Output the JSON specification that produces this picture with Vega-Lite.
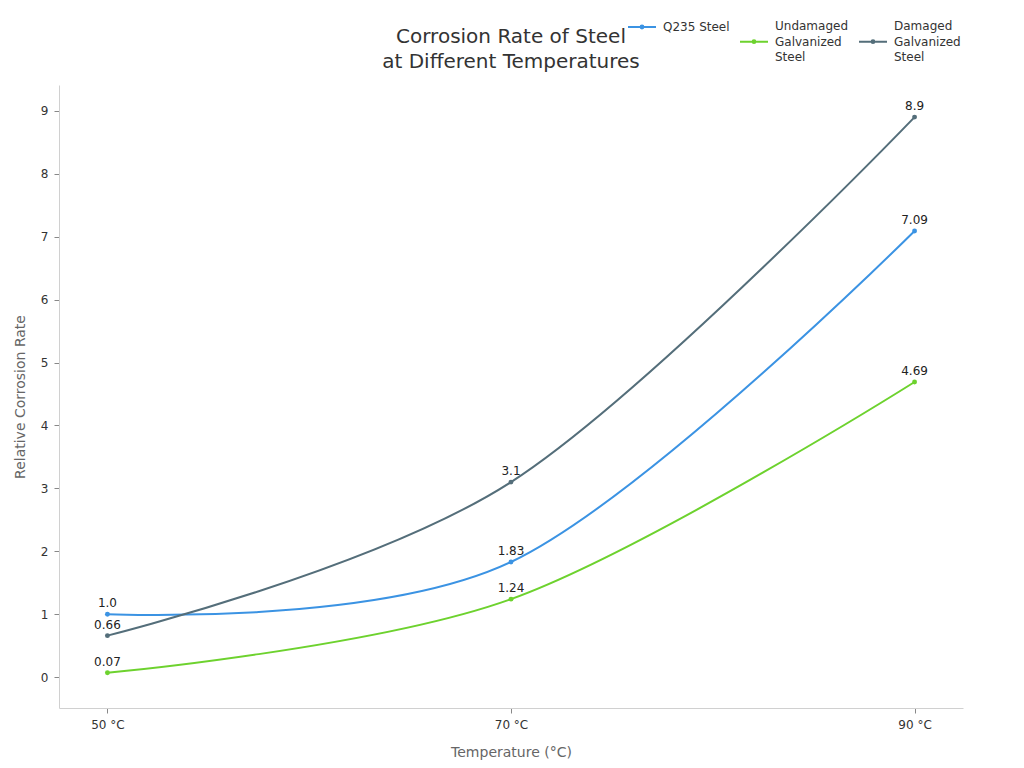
{
  "$schema": "https://vega.github.io/schema/vega-lite/v6.json",
  "autosize": {"type": "none"},
  "padding": {"left": 59, "top": 85, "right": 61, "bottom": 60},
  "width": 904,
  "height": 623,
  "title": {
    "text": ["Corrosion Rate of Steel", "at Different Temperatures"],
    "fontSize": 20,
    "fontWeight": "normal",
    "font": "DejaVu Sans",
    "color": "#333333",
    "anchor": "middle",
    "offset": 12,
    "dy": 73,
    "lineHeight": 25
  },
  "data": {
    "values": [
      {"temp": "50 °C", "series": "Q235 Steel", "rate": 1.0, "label": "1.0"},
      {"temp": "70 °C", "series": "Q235 Steel", "rate": 1.83, "label": "1.83"},
      {"temp": "90 °C", "series": "Q235 Steel", "rate": 7.09, "label": "7.09"},
      {"temp": "50 °C", "series": "Undamaged Galvanized Steel", "rate": 0.07, "label": "0.07"},
      {"temp": "70 °C", "series": "Undamaged Galvanized Steel", "rate": 1.24, "label": "1.24"},
      {"temp": "90 °C", "series": "Undamaged Galvanized Steel", "rate": 4.69, "label": "4.69"},
      {"temp": "50 °C", "series": "Damaged Galvanized Steel", "rate": 0.66, "label": "0.66"},
      {"temp": "70 °C", "series": "Damaged Galvanized Steel", "rate": 3.1, "label": "3.1"},
      {"temp": "90 °C", "series": "Damaged Galvanized Steel", "rate": 8.9, "label": "8.9"}
    ]
  },
  "encoding": {
    "x": {
      "field": "temp",
      "type": "ordinal",
      "scale": {"type": "point", "padding": 0.12},
      "title": "Temperature (°C)",
      "axis": {
        "labelAngle": 0,
        "labelFontSize": 12,
        "labelColor": "#333333",
        "labelFont": "DejaVu Sans",
        "labelPadding": 6,
        "titleFont": "DejaVu Sans",
        "titleFontSize": 14,
        "titleFontWeight": "normal",
        "titleColor": "#666666",
        "titlePadding": 15,
        "domainColor": "#d0d0d0",
        "tickColor": "#888888",
        "tickSize": 5,
        "grid": false
      }
    },
    "y": {
      "field": "rate",
      "type": "quantitative",
      "scale": {"domain": [-0.49, 9.41], "nice": false, "zero": false},
      "title": "Relative Corrosion Rate",
      "axis": {
        "values": [0, 1, 2, 3, 4, 5, 6, 7, 8, 9],
        "labelFontSize": 12,
        "labelColor": "#333333",
        "labelFont": "DejaVu Sans",
        "labelPadding": 6,
        "titleFont": "DejaVu Sans",
        "titleFontSize": 14,
        "titleFontWeight": "normal",
        "titleColor": "#666666",
        "titlePadding": 13,
        "domainColor": "#d0d0d0",
        "tickColor": "#888888",
        "tickSize": 5,
        "grid": false
      }
    }
  },
  "layer": [
    {
      "mark": {"type": "line", "interpolate": "cardinal", "strokeWidth": 2},
      "encoding": {
        "stroke": {
          "field": "series",
          "type": "nominal",
          "scale": {
            "domain": ["Undamaged Galvanized Steel", "Damaged Galvanized Steel", "Q235 Steel"],
            "range": ["#6dd22e", "#546e7a", "#3b93e3"]
          },
          "legend": {
            "title": null,
            "orient": "none",
            "direction": "horizontal",
            "legendX": 680,
            "legendY": -74,
            "values": ["Undamaged Galvanized Steel", "Damaged Galvanized Steel"],
            "symbolType": "M-1,1.12L1,1.12M-0.1,1.12A0.1,0.1 0 1,0 0.1,1.12A0.1,0.1 0 1,0 -0.1,1.12",
            "symbolSize": 784,
            "symbolStrokeWidth": 2,
            "symbolFillColor": "transparent",
            "labelFont": "DejaVu Sans",
            "labelFontSize": 12,
            "labelColor": "#333333",
            "labelOffset": 6,
            "columnPadding": 6,
            "labelExpr": "split(datum.label, ' ')"
          }
        }
      }
    },
    {
      "mark": {"type": "point", "filled": true, "size": 24, "opacity": 1},
      "encoding": {
        "fill": {
          "field": "series",
          "type": "nominal",
          "scale": {
            "domain": ["Q235 Steel", "Undamaged Galvanized Steel", "Damaged Galvanized Steel"],
            "range": ["#3b93e3", "#6dd22e", "#546e7a"]
          },
          "legend": {
            "title": null,
            "orient": "none",
            "direction": "horizontal",
            "legendX": 568,
            "legendY": -73,
            "values": ["Q235 Steel"],
            "symbolType": "M-1,0L1,0M-0.1,0A0.1,0.1 0 1,0 0.1,0A0.1,0.1 0 1,0 -0.1,0",
            "symbolSize": 784,
            "symbolStrokeWidth": 2,
            "symbolStrokeColor": "#3b93e3",
            "labelFont": "DejaVu Sans",
            "labelFontSize": 12,
            "labelColor": "#333333",
            "labelOffset": 6
          }
        }
      }
    },
    {
      "mark": {"type": "text", "dy": -11, "fontSize": 12, "font": "DejaVu Sans", "color": "#222222"},
      "encoding": {
        "text": {"field": "label"}
      }
    }
  ],
  "config": {
    "view": {"stroke": null},
    "style": {"guide-label": {"lineHeight": 15.5}}
  }
}
